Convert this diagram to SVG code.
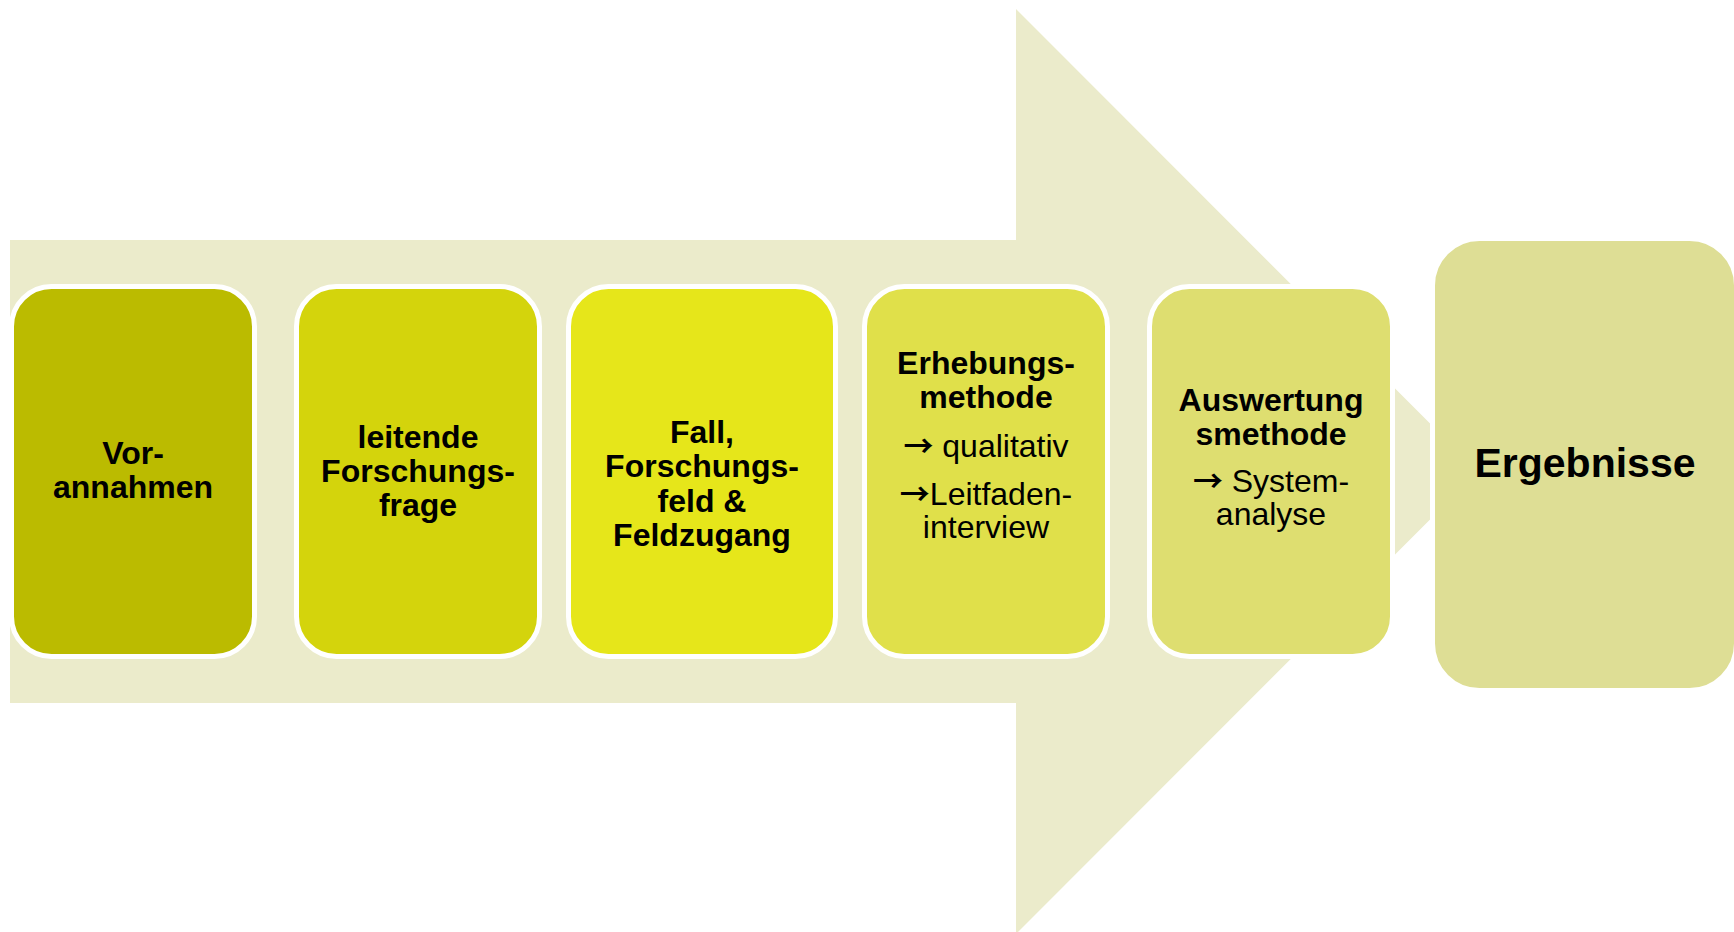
<svg xmlns="http://www.w3.org/2000/svg" width="1734" height="932" viewBox="0 0 1734 932">
<style>
.box{stroke:#FFFFFF;stroke-width:5}
.t{font-family:"Liberation Sans",Arial,sans-serif;font-size:32px;text-anchor:middle;fill:#000}
.b{font-weight:bold}
.ar{font-family:"Noto Sans CJK SC","DejaVu Sans",sans-serif;font-weight:bold;font-size:30px}
</style>
<rect width="1734" height="932" fill="#FFFFFF"/>
<g id="bigarrow">
<polygon points="10,240 1016,240 1016,9 1478,471.5 1016,934 1016,703 10,703" fill="#EBEBCB"/>
</g>
<g id="connectors"></g>
<g id="n1">
<rect class="box" x="11.5" y="286.5" width="243" height="370" rx="40" fill="#BBBB00"/>
<text class="t b" x="133" y="464">Vor-</text>
<text class="t b" x="133" y="498">annahmen</text>
</g>
<g id="n2">
<rect class="box" x="296.5" y="286.5" width="243" height="370" rx="40" fill="#D4D40C"/>
<text class="t b" x="418" y="448">leitende</text>
<text class="t b" x="418" y="482">Forschungs-</text>
<text class="t b" x="418" y="516">frage</text>
</g>
<g id="n3">
<rect class="box" x="568.5" y="286.5" width="267" height="370" rx="40" fill="#E6E61A"/>
<text class="t b" x="702" y="443">Fall,</text>
<text class="t b" x="702" y="477">Forschungs-</text>
<text class="t b" x="702" y="512">feld &amp;</text>
<text class="t b" x="702" y="546">Feldzugang</text>
</g>
<g id="n4">
<rect class="box" x="864.5" y="286.5" width="243" height="370" rx="40" fill="#E0E04A"/>
<text class="t b" x="986" y="374">Erhebungs-</text>
<text class="t b" x="986" y="408">methode</text>
<text class="t" x="986" y="457"><tspan class="ar">→</tspan> qualitativ</text>
<text class="t" x="986" y="505"><tspan class="ar">→</tspan>Leitfaden-</text>
<text class="t" x="986" y="538">interview</text>
</g>
<g id="n5">
<rect class="box" x="1149.5" y="286.5" width="243" height="370" rx="40" fill="#DEDE70"/>
<text class="t b" x="1271" y="411">Auswertung</text>
<text class="t b" x="1271" y="445">smethode</text>
<text class="t" x="1271" y="492"><tspan class="ar">→</tspan> System-</text>
<text class="t" x="1271" y="525">analyse</text>
</g>
<g id="n6">
<rect class="box" x="1432.5" y="238.5" width="304" height="452" rx="47" fill="#DEDE95"/>
<text class="t b" x="1585" y="477" style="font-size:41px">Ergebnisse</text>
</g>
</svg>
